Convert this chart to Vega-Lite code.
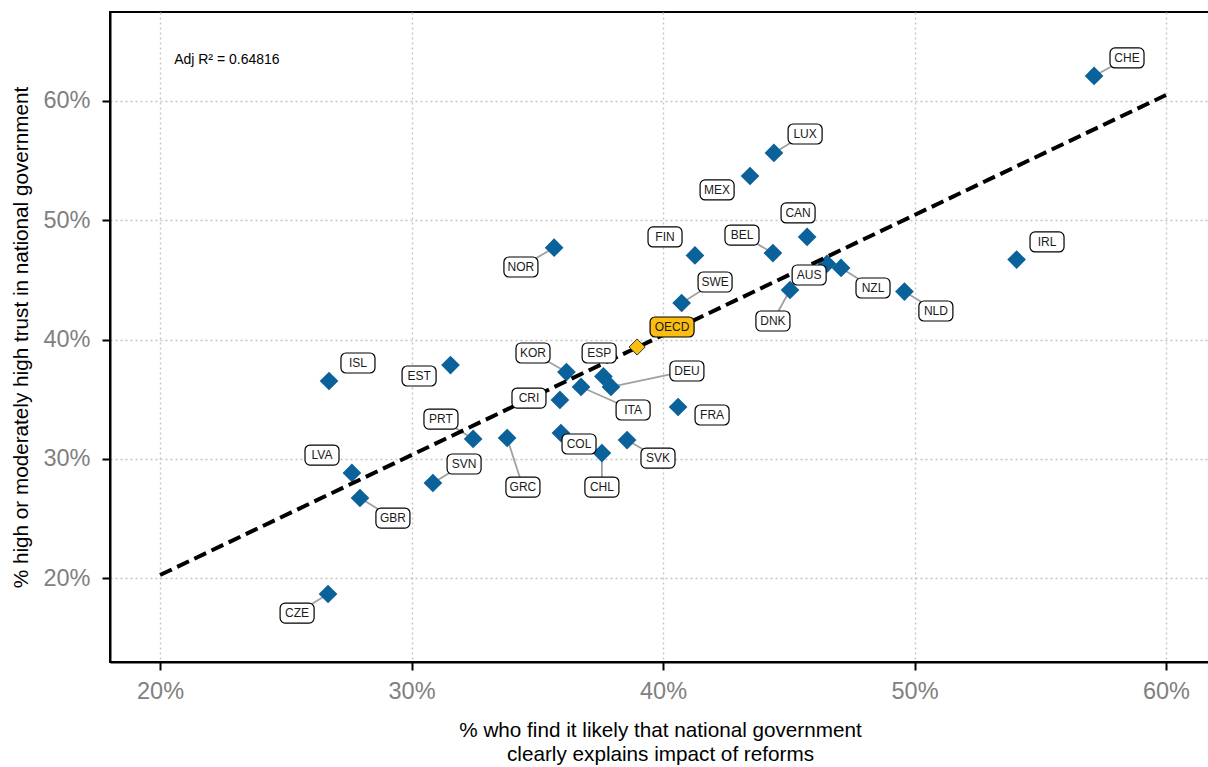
{
  "$schema": "https://vega.github.io/schema/vega-lite/v6.json",
  "width": 1100,
  "height": 650,
  "autosize": {"type": "none"},
  "padding": {"left": 110, "top": 12, "right": 0, "bottom": 105},
  "background": "white",
  "config": {
    "view": {"stroke": "black", "strokeWidth": 2},
    "font": "'Liberation Sans', sans-serif",
    "axis": {
      "grid": true,
      "gridColor": "#c4c4c4",
      "gridDash": [2, 3],
      "gridWidth": 1.4,
      "domainColor": "black",
      "domainWidth": 2,
      "tickColor": "black",
      "tickWidth": 2,
      "tickSize": 8,
      "labelFont": "'Liberation Sans', sans-serif",
      "labelFontSize": 23.5,
      "labelColor": "#808080",
      "titleFont": "'Liberation Sans', sans-serif",
      "titleFontSize": 20.7,
      "titleFontWeight": "normal",
      "titleColor": "black",
      "titleLineHeight": 24
    }
  },
  "datasets": {
    "countries": [
      {"code": "CHE", "x": 57.14, "y": 62.10, "lx": 58.45, "ly": 63.61},
      {"code": "LUX", "x": 44.41, "y": 55.64, "lx": 45.65, "ly": 57.23},
      {"code": "MEX", "x": 43.46, "y": 53.71, "lx": 42.15, "ly": 52.54},
      {"code": "CAN", "x": 45.73, "y": 48.60, "lx": 45.37, "ly": 50.61},
      {"code": "BEL", "x": 44.37, "y": 47.25, "lx": 43.14, "ly": 48.76},
      {"code": "FIN", "x": 41.27, "y": 47.05, "lx": 40.08, "ly": 48.60},
      {"code": "NOR", "x": 35.67, "y": 47.70, "lx": 34.35, "ly": 46.08},
      {"code": "IRL", "x": 54.06, "y": 46.70, "lx": 55.27, "ly": 48.18},
      {"code": "AUS", "x": 46.52, "y": 46.35, "lx": 45.81, "ly": 45.41},
      {"code": "NZL", "x": 47.08, "y": 46.00, "lx": 48.35, "ly": 44.32},
      {"code": "NLD", "x": 49.60, "y": 44.02, "lx": 50.85, "ly": 42.39},
      {"code": "DNK", "x": 45.05, "y": 44.15, "lx": 44.37, "ly": 41.55},
      {"code": "SWE", "x": 40.74, "y": 43.06, "lx": 42.07, "ly": 44.82},
      {"code": "OECD", "x": 38.97, "y": 39.37, "lx": 40.36, "ly": 41.05},
      {"code": "EST", "x": 31.55, "y": 37.86, "lx": 30.30, "ly": 36.94},
      {"code": "ISL", "x": 26.72, "y": 36.52, "lx": 27.87, "ly": 38.03},
      {"code": "KOR", "x": 36.16, "y": 37.27, "lx": 34.83, "ly": 38.87},
      {"code": "ESP", "x": 37.63, "y": 36.90, "lx": 37.46, "ly": 38.87},
      {"code": "DEU", "x": 37.93, "y": 36.02, "lx": 40.95, "ly": 37.36},
      {"code": "ITA", "x": 36.74, "y": 36.02, "lx": 38.81, "ly": 34.09},
      {"code": "CRI", "x": 35.90, "y": 34.93, "lx": 34.67, "ly": 35.09},
      {"code": "FRA", "x": 40.60, "y": 34.34, "lx": 41.95, "ly": 33.67},
      {"code": "COL", "x": 35.94, "y": 32.16, "lx": 36.66, "ly": 31.24},
      {"code": "CHL", "x": 37.57, "y": 30.48, "lx": 37.57, "ly": 27.63},
      {"code": "SVK", "x": 38.57, "y": 31.57, "lx": 39.80, "ly": 30.06},
      {"code": "GRC", "x": 33.80, "y": 31.74, "lx": 34.43, "ly": 27.63},
      {"code": "PRT", "x": 32.45, "y": 31.66, "lx": 31.17, "ly": 33.33},
      {"code": "LVA", "x": 27.63, "y": 28.81, "lx": 26.44, "ly": 30.31},
      {"code": "GBR", "x": 27.95, "y": 26.71, "lx": 29.26, "ly": 25.03},
      {"code": "SVN", "x": 30.85, "y": 27.97, "lx": 32.09, "ly": 29.56},
      {"code": "CZE", "x": 26.68, "y": 18.66, "lx": 25.45, "ly": 17.06}
    ],
    "fit": [
      {"x": 20, "y": 20.25},
      {"x": 60, "y": 60.5}
    ],
    "note": [
      {"x": 20.56, "y": 63.44, "label": "Adj R² = 0.64816"}
    ]
  },
  "data": {"name": "countries"},
  "layer": [
    {
      "transform": [{"filter": {"field": "code", "oneOf": ["CHE", "LUX", "BEL", "NOR", "NZL", "NLD", "DNK", "SWE", "KOR", "DEU", "ITA", "CHL", "SVK", "GRC", "PRT", "GBR", "SVN", "CZE"]}}],
      "mark": {"type": "rule", "color": "#a0a0a0", "strokeWidth": 1.8},
      "encoding": {
        "x": {"field": "x", "type": "quantitative", "scale": {"domain": [18.01, 61.75], "nice": false, "zero": false},
          "axis": {"values": [20, 30, 40, 50, 60], "labelExpr": "datum.value + '%'", "labelPadding": 9, "titlePadding": 18,
            "title": ["% who find it likely that national government", "clearly explains impact of reforms"]}},
        "y": {"field": "y", "type": "quantitative", "scale": {"domain": [12.96, 67.46], "nice": false, "zero": false},
          "axis": {"values": [20, 30, 40, 50, 60], "labelExpr": "datum.value + '%'", "labelPadding": 12, "titlePadding": 11,
            "title": "% high or moderately high trust in national government"}},
        "x2": {"field": "lx"},
        "y2": {"field": "ly"}
      }
    },
    {
      "transform": [{"filter": "datum.code != 'OECD'"}],
      "mark": {"type": "point", "shape": "diamond", "filled": true, "size": 350, "color": "#0b6199", "opacity": 1},
      "encoding": {
        "x": {"field": "x", "type": "quantitative"},
        "y": {"field": "y", "type": "quantitative"}
      }
    },
    {
      "data": {"name": "fit"},
      "mark": {"type": "line", "color": "black", "strokeWidth": 4, "strokeDash": [13, 6]},
      "encoding": {
        "x": {"field": "x", "type": "quantitative"},
        "y": {"field": "y", "type": "quantitative"}
      }
    },
    {
      "transform": [{"filter": "datum.code == 'OECD'"}],
      "mark": {"type": "point", "shape": "diamond", "filled": true, "size": 260, "fill": "#fbbd0f", "stroke": "#333333", "strokeWidth": 1, "opacity": 1},
      "encoding": {
        "x": {"field": "x", "type": "quantitative"},
        "y": {"field": "y", "type": "quantitative"}
      }
    },
    {
      "transform": [{"filter": "datum.code != 'OECD'"}],
      "mark": {"type": "rect", "width": 34, "height": 20, "cornerRadius": 5, "fill": "white", "stroke": "black", "strokeWidth": 1.2},
      "encoding": {
        "x": {"field": "lx", "type": "quantitative"},
        "y": {"field": "ly", "type": "quantitative"}
      }
    },
    {
      "transform": [{"filter": "datum.code == 'OECD'"}],
      "mark": {"type": "rect", "width": 44, "height": 20, "cornerRadius": 5, "fill": "#fbbd0f", "stroke": "black", "strokeWidth": 1.2},
      "encoding": {
        "x": {"field": "lx", "type": "quantitative"},
        "y": {"field": "ly", "type": "quantitative"}
      }
    },
    {
      "mark": {"type": "text", "fontSize": 12, "color": "#1a1a1a", "align": "center", "baseline": "middle"},
      "encoding": {
        "x": {"field": "lx", "type": "quantitative"},
        "y": {"field": "ly", "type": "quantitative"},
        "text": {"field": "code"}
      }
    },
    {
      "data": {"name": "note"},
      "mark": {"type": "text", "fontSize": 14, "color": "black", "align": "left", "baseline": "middle"},
      "encoding": {
        "x": {"field": "x", "type": "quantitative"},
        "y": {"field": "y", "type": "quantitative"},
        "text": {"field": "label"}
      }
    }
  ]
}
